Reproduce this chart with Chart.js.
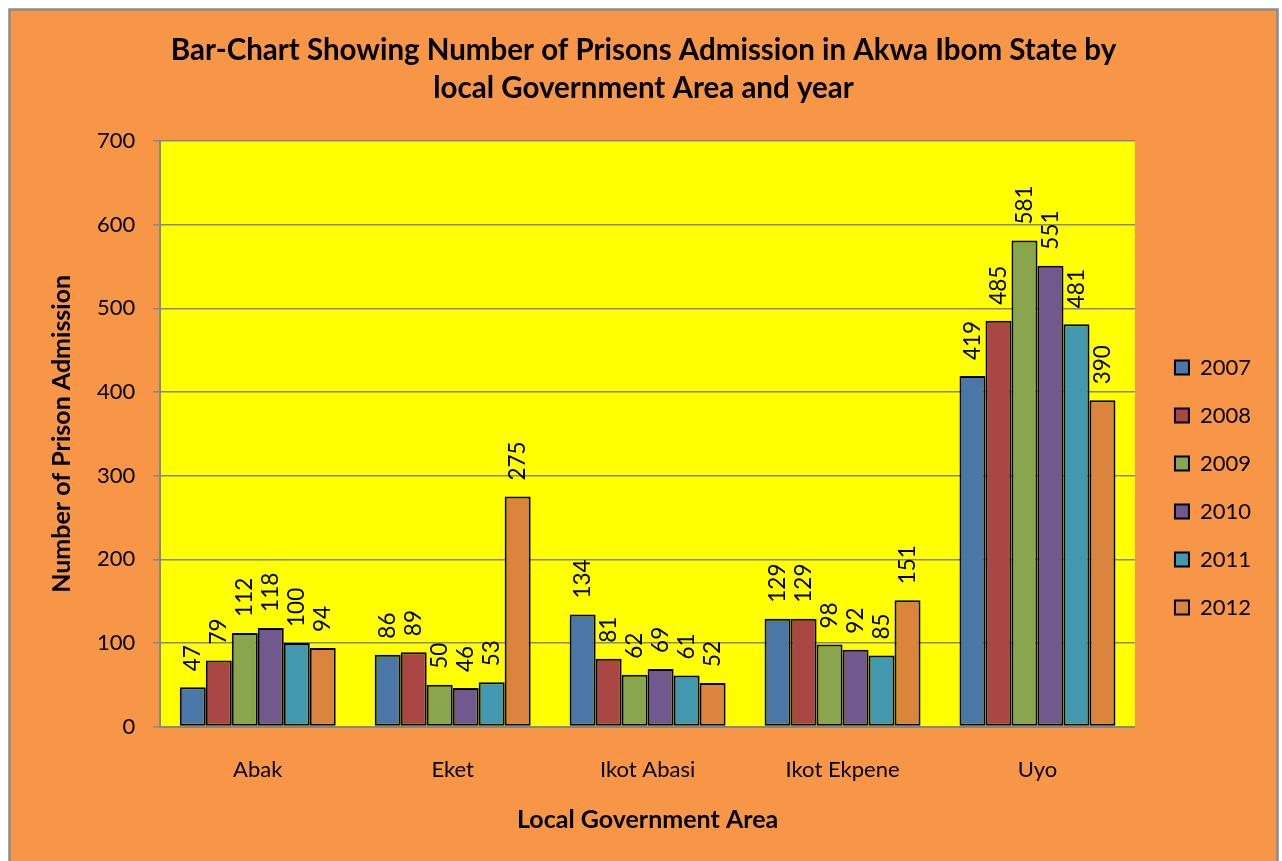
<!DOCTYPE html>
<html>
<head>
<meta charset="utf-8">
<title>Prisons Admission in Akwa Ibom State</title>
<script src="https://cdn.jsdelivr.net/npm/chart.js@4.4.0/dist/chart.umd.min.js"></script>
<style>
  html, body { margin: 0; padding: 0; background: #ffffff; }
  #wrap { position: absolute; left: 0; top: 0; width: 1282px; height: 861px; }
</style>
</head>
<body>
<div id="wrap"><canvas id="admission-chart" width="1282" height="861"></canvas></div>
<script>
// Local government areas (x axis)
const areas = ['Abak', 'Eket', 'Ikot Abasi', 'Ikot Ekpene', 'Uyo'];

// Admissions per year, one value per area
const y2007 = [47, 86, 134, 129, 419];
const y2008 = [79, 89, 81, 129, 485];
const y2009 = [112, 50, 62, 98, 581];
const y2010 = [118, 46, 69, 92, 551];
const y2011 = [100, 53, 61, 85, 481];
const y2012 = [94, 275, 52, 151, 390];

const years = ['2007', '2008', '2009', '2010', '2011', '2012'];
const yearColors = ['#4A76A8', '#AA4643', '#89A54E', '#71588F', '#4198AF', '#DB843D'];

const titleLines = [
  'Bar-Chart Showing Number of Prisons Admission in Akwa Ibom State by',
  'local Government Area and year'
];

const FONT = 'Lato, "Open Sans", sans-serif';

// Paint the orange chart background, the grey frame and the yellow plot area
const backgroundPlugin = {
  id: 'background',
  beforeDraw(chart) {
    const ctx = chart.ctx;
    const area = chart.chartArea;
    ctx.save();
    ctx.fillStyle = '#ffffff';
    ctx.fillRect(0, 0, chart.width, chart.height);
    ctx.fillStyle = '#F79646';
    ctx.fillRect(9.5, 9.5, 1268, chart.height + 20);
    ctx.strokeStyle = '#8C8C8C';
    ctx.lineWidth = 2.5;
    ctx.strokeRect(9.5, 9.5, 1268, chart.height + 20);
    ctx.fillStyle = '#FFFF00';
    ctx.fillRect(area.left, area.top, area.right - area.left, area.bottom - area.top);
    ctx.restore();
  }
};

// Nudge the legend to where the original sits
const legendPlacePlugin = {
  id: 'legendPlace',
  afterLayout(chart) {
    const lg = chart.legend;
    if (!lg) return;
    lg.left += 14; lg.right += 14;
    lg.top += 62; lg.bottom += 62;
  }
};

// Vertical value labels above each bar
const barLabelsPlugin = {
  id: 'barLabels',
  afterDatasetsDraw(chart) {
    const ctx = chart.ctx;
    ctx.save();
    ctx.font = '22.5px ' + FONT;
    ctx.fillStyle = '#000000';
    ctx.textAlign = 'left';
    ctx.textBaseline = 'middle';
    chart.data.datasets.forEach((ds, i) => {
      const meta = chart.getDatasetMeta(i);
      meta.data.forEach((bar, j) => {
        ctx.save();
        ctx.translate(bar.x, bar.y - 16);
        ctx.rotate(-Math.PI / 2);
        ctx.fillText(String(ds.data[j]), 0, 0);
        ctx.restore();
      });
    });
    ctx.restore();
  }
};

const seriesValues = [y2007, y2008, y2009, y2010, y2011, y2012];
const datasets = years.map((yr, i) => ({
  label: yr,
  data: seriesValues[i],
  backgroundColor: yearColors[i],
  borderColor: '#000000',
  borderWidth: 2,
  borderSkipped: false,
  categoryPercentage: 0.8,
  barPercentage: 1.0
}));

const ctx = document.getElementById('admission-chart').getContext('2d');
new Chart(ctx, {
  type: 'bar',
  data: { labels: areas, datasets: datasets },
  options: {
    responsive: false,
    animation: false,
    layout: { padding: { left: 40, right: 35, top: 0, bottom: 10 } },
    plugins: {
      title: {
        display: true,
        text: titleLines,
        color: '#000000',
        font: { family: FONT, size: 29.5, weight: 'bold', lineHeight: '38px' },
        padding: { top: 31, bottom: 34 }
      },
      legend: {
        position: 'right',
        labels: {
          color: '#000000',
          font: { family: FONT, size: 22 },
          boxWidth: 14,
          boxHeight: 14,
          padding: 26
        }
      },
      tooltip: { enabled: false }
    },
    scales: {
      x: {
        grid: { display: false, drawTicks: false },
        border: { display: true, color: '#868686', width: 2 },
        ticks: { color: '#000000', font: { family: FONT, size: 22 }, padding: 30 },
        title: {
          display: true,
          text: 'Local Government Area',
          color: '#000000',
          font: { family: FONT, size: 25, weight: 'bold', lineHeight: '30px' },
          padding: { top: -8, bottom: 16 }
        }
      },
      y: {
        min: 0,
        max: 700,
        ticks: { stepSize: 100, color: '#000000', font: { family: FONT, size: 22 }, padding: 18 },
        grid: { color: '#868686', lineWidth: 1.5, drawTicks: true, tickLength: 7, tickColor: '#868686' },
        border: { display: true, color: '#868686', width: 2 },
        title: {
          display: true,
          text: 'Number of Prison Admission',
          color: '#000000',
          font: { family: FONT, size: 25, weight: 'bold', lineHeight: '30px' },
          padding: { top: 7, bottom: 2 }
        }
      }
    }
  },
  plugins: [backgroundPlugin, legendPlacePlugin, barLabelsPlugin]
});
</script>
</body>
</html>
